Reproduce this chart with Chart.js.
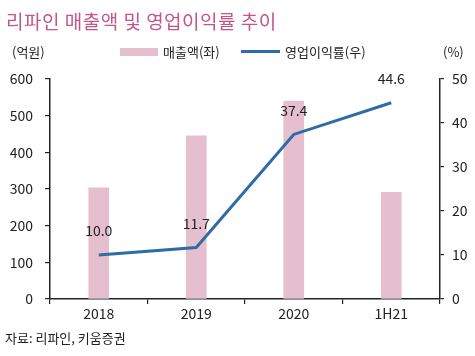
<!DOCTYPE html>
<html><head><meta charset="utf-8">
<script src="https://cdn.jsdelivr.net/npm/chart.js@4"></script>
<style>
html,body{margin:0;padding:0;background:#fff;}
#wrap{position:relative;width:475px;height:356px;overflow:hidden;font-family:"Noto Sans CJK KR","Noto Sans",sans-serif;}
canvas{position:absolute;left:0;top:0;}
.t{position:absolute;white-space:nowrap;line-height:1;}
</style></head>
<body><div id="wrap">
<canvas id="c" width="475" height="356"></canvas>
<div class="t" id="title" style="left:6px;top:11px;font-size:19px;letter-spacing:0.5px;color:#C4548A;">리파인 매출액 및 영업이익률 추이</div>
<div class="t" style="left:12px;top:45px;font-size:13px;color:#222;">(억원)</div>
<div class="t" style="left:443px;top:45px;font-size:13px;color:#222;">(%)</div>
<div style="position:absolute;left:120px;top:48px;width:38px;height:8px;background:#E5BFCD;"></div>
<div class="t" style="left:163px;top:45px;font-size:13px;color:#222;">매출액(좌)</div>
<div style="position:absolute;left:241px;top:50px;width:39px;height:3px;background:#2F6CA6;"></div>
<div class="t" style="left:285px;top:45px;font-size:13px;color:#222;">영업이익률(우)</div>
<div class="t" style="left:5px;top:331px;font-size:13px;color:#222;">자료: 리파인, 키움증권</div>
</div>
<script>
const categories = ['2018','2019','2020','1H21'];
const salesValues = [303, 445, 540, 291];
const marginValues = [10.0, 11.7, 37.4, 44.6];
const marginLabels = ['10.0','11.7','37.4','44.6'];

const labelPlugin = {
  id:'pointLabels',
  afterDatasetsDraw(chart){
    const ctx = chart.ctx;
    const meta = chart.getDatasetMeta(0);
    ctx.save();
    ctx.font = '14px "Noto Sans CJK KR","Noto Sans",sans-serif';
    ctx.fillStyle = '#222';
    ctx.textAlign = 'center';
    ctx.textBaseline = 'middle';
    meta.data.forEach((pt,i)=>{
      ctx.fillText(marginLabels[i], pt.x, pt.y - 24);
    });
    ctx.restore();
  }
};

const tickFont = {family:'"Noto Sans CJK KR","Noto Sans",sans-serif', size:14};

new Chart(document.getElementById('c'), {
  data:{
    labels:categories,
    datasets:[
      {type:'line', label:'영업이익률(우)', data:marginValues, yAxisID:'y1', borderColor:'#2F6CA6', borderWidth:3, pointRadius:0, tension:0, order:0},
      {type:'bar', label:'매출액(좌)', data:salesValues, yAxisID:'y', backgroundColor:'#E5BFCD', barThickness:20, order:1}
    ]
  },
  options:{
    responsive:false, animation:false, devicePixelRatio:1,
    layout:{padding:{top:79,left:0,right:0,bottom:0}},
    plugins:{legend:{display:false}, tooltip:{enabled:false}, title:{display:false}},
    scales:{
      x:{
        offset:true,
        grid:{display:true, drawOnChartArea:false, drawTicks:true, tickLength:5, offset:true, tickColor:'#222', lineWidth:1.2},
        border:{display:true, color:'#222', width:1.5},
        ticks:{font:tickFont, color:'#222', padding:1, maxRotation:0},
        afterFit(s){ s.height = 57; }
      },
      y:{
        position:'left', min:0, max:600,
        grid:{display:true, drawOnChartArea:false, drawTicks:true, tickLength:5, tickColor:'#222', lineWidth:1.2},
        border:{display:true, color:'#222', width:1.5},
        ticks:{stepSize:100, font:tickFont, color:'#222', padding:12},
        afterFit(s){ s.width = 50; }
      },
      y1:{
        position:'right', min:0, max:50,
        grid:{display:true, drawOnChartArea:false, drawTicks:true, tickLength:4, tickColor:'#222', lineWidth:1.2},
        border:{display:true, color:'#222', width:1.5},
        ticks:{stepSize:10, font:tickFont, color:'#222', padding:8},
        afterFit(s){ s.width = 35; }
      }
    }
  },
  plugins:[labelPlugin]
});
</script>
</body></html>
